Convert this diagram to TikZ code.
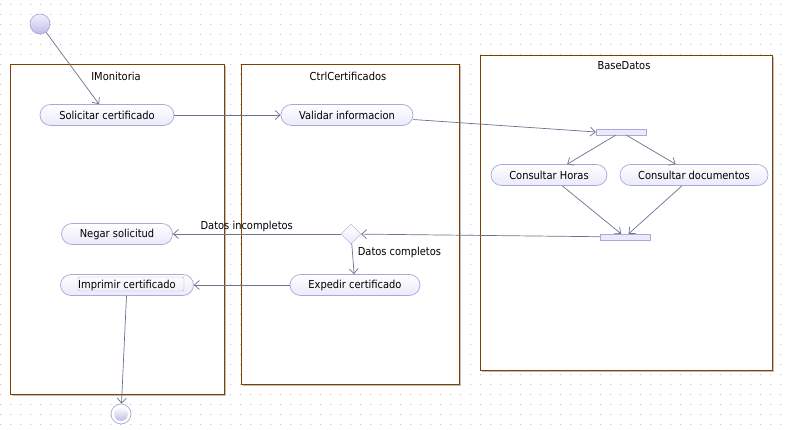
\documentclass[tikz,border=0pt]{standalone}
\usepackage{fontspec}
\setmainfont{DejaVu Sans Condensed}
\usetikzlibrary{shapes.geometric}
\usetikzlibrary{arrows.meta}

\definecolor{lanebrown}{RGB}{128,64,0}
\definecolor{edgegray}{RGB}{112,112,144}
\definecolor{nodeline}{RGB}{168,168,220}
\definecolor{nodefill}{RGB}{234,234,250}
\definecolor{dotgray}{RGB}{200,200,206}

\tikzset{
   lane/.style={draw=lanebrown, fill=white, line width=.8pt},
   laneshadow/.style={fill=black!25, draw=none},
   lanetitle/.style={inner sep=0pt},
   action/.style={
      draw=nodeline,
      top color=white,
      bottom color=nodefill,
      rounded corners=10.5pt,
      minimum height=21pt,
      inner sep=0pt,
      line width=.7pt
   },
   bar/.style={draw=nodeline, fill=nodefill, minimum width=50pt, minimum height=6pt, inner sep=0pt},
   decision/.style={diamond, draw=nodeline, top color=white, bottom color=nodefill, minimum width=20pt, minimum height=20pt, inner sep=0pt},
   flow/.style={draw=edgegray, line width=.7pt, -{Straight Barb[length=5pt,width=9pt]}},
   guard/.style={inner sep=2pt}
}

\begin{document}
\begin{tikzpicture}[x=1pt, y=-1pt, font=\fontsize{11}{13}\selectfont]
   \useasboundingbox (0,0) rectangle (787,430);
   \fill[white] (0,0) rectangle (787,430);

   % dotted grid
   \fill[dotgray] \foreach \x in {0,...,78} { \foreach \y in {0,...,42} { (\x*10,\y*10+4) rectangle ++(1,1) } };

   % swimlanes
   \fill[laneshadow] (12,66) rectangle (226,396);
   \draw[lane] (10,64) rectangle (224,394);
   \fill[laneshadow] (243,66) rectangle (461,386);
   \draw[lane] (241,64) rectangle (459,384);
   \fill[laneshadow] (482,57) rectangle (774,372);
   \draw[lane] (480,55) rectangle (772,370);
   \node[lanetitle] (tmonitoria) at (116,76) {IMonitoria};
   \node[lanetitle] (tctrl) at (348,76) {CtrlCertificados};
   \node[lanetitle] (tbase) at (624,66) {BaseDatos};

   % start / end
   \node[circle, draw=nodeline, top color=nodefill!60, bottom color={rgb,255:red,188;green,188;blue,232}, minimum size=20pt, inner sep=0pt, line width=.7pt] (init) at (40,24) {};
   \node[circle, draw=nodeline, fill=white, minimum size=20pt, inner sep=0pt, line width=.7pt] (final) at (121,414) {};
   \node[circle, top color=white, bottom color={rgb,255:red,188;green,188;blue,232}, minimum size=14pt, inner sep=0pt] (finalin) at (121,414) {};

   % actions
   \node[action, minimum width=134pt] (solicitar) at (107,115) {Solicitar certificado};
   \node[action, minimum width=132pt] (validar) at (347,115) {Validar informacion};
   \node[bar] (fork) at (621,132) {};
   \node[action, minimum width=116pt] (horas) at (549,175) {Consultar Horas};
   \node[action, minimum width=148pt] (documentos) at (694,175) {Consultar documentos};
   \node[bar] (join) at (625,237) {};
   \node[decision] (check) at (351,234) {};
   \node[action, minimum width=111pt] (negar) at (117,234) {Negar solicitud};
   \node[action, minimum width=130pt] (expedir) at (355,285) {Expedir certificado};
   \node[action, minimum width=133pt] (imprimir) at (127,285) {Imprimir certificado};
   \draw[black!30, rounded corners=2pt] (imprimir.center) ++(-49,-8) rectangle ++(106,14);

   % flows
   \draw[flow] (init) -- (solicitar);
   \draw[flow] (solicitar) -- (validar);
   \draw[flow] (validar) -- (fork.west);
   \draw[flow] (fork) -- (horas);
   \draw[flow] (fork) -- (documentos);
   \draw[flow] (horas) -- (join);
   \draw[flow] (documentos) -- (join);
   \draw[flow] (join) -- (check);
   \draw[flow] (check) -- node[guard, above, pos=.56] {Datos incompletos} (negar);
   \draw[flow] (check) -- node[guard, right, pos=.3, xshift=3pt] {Datos completos} (expedir);
   \draw[flow] (expedir) -- (imprimir);
   \draw[flow] (imprimir) -- (final);

\end{tikzpicture}
\end{document}
